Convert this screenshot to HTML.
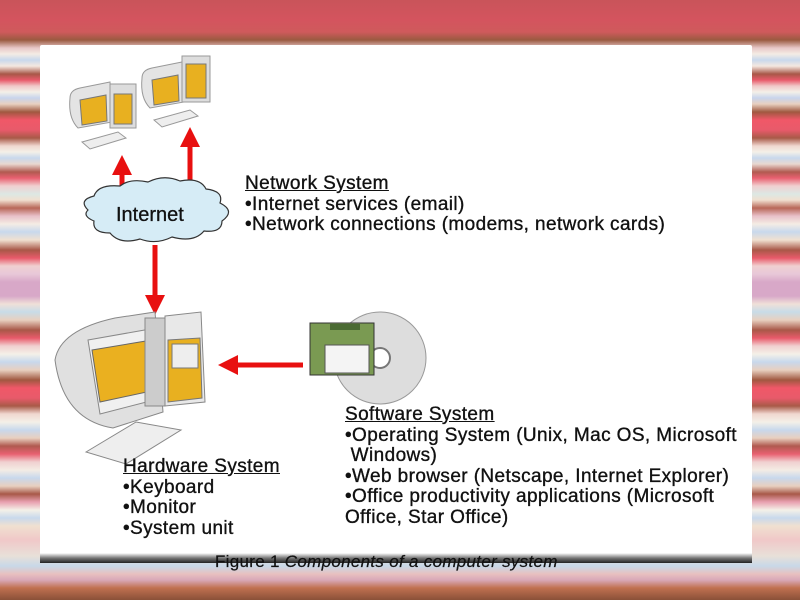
<!DOCTYPE html>
<html><head><meta charset="utf-8"><style>
html,body{margin:0;padding:0}
body{width:800px;height:600px;position:relative;overflow:hidden;font-family:"Liberation Sans",Arial,sans-serif;
background:linear-gradient(to bottom,#c9545a 0px,#d4545e 20px,#cf5a5c 32px,#9a5a40 40px,#e8c8c8 48px,#f4ece4 54px,#c8d8ec 60px,#f4e8e0 66px,#a85848 74px,#e85a6a 80px,#f0c8c8 86px,#f4f0e8 92px,#c8d4ec 98px,#e8d0c0 104px,#a05840 112px,#f05868 120px,#e85a6a 130px,#a85a48 138px,#f0d8d0 146px,#f4f0e8 152px,#c8d8ec 158px,#e8d8d0 164px,#b05a50 172px,#e86070 178px,#f0d0d0 186px,#dce8e4 194px,#f0e0d0 200px,#b86858 208px,#e8c0c8 216px,#f4ece4 224px,#c8d8ec 232px,#f0e0d0 240px,#a85848 250px,#e85a6a 258px,#f0d0d0 266px,#e8c8d8 274px,#d8a8c8 282px,#d8a8c8 296px,#f0e0d8 304px,#c8dce8 312px,#e8d0c0 320px,#a85848 330px,#e85a6a 338px,#f0d0d0 346px,#f4f0e8 354px,#c8d8ec 362px,#e8d0c0 370px,#a05840 380px,#f05868 388px,#e85a6a 398px,#a85a48 406px,#f0d8d0 414px,#f4f0e8 422px,#c8d8ec 430px,#e8d0c0 438px,#b05a50 446px,#e86070 454px,#f0d0d0 462px,#f4ece4 470px,#c8d8ec 478px,#e8d0c0 486px,#a85848 494px,#e8a0b0 502px,#f4f0e8 510px,#c8d8ec 518px,#f0e0d0 526px,#f0c8c8 540px,#e8e0d8 556px,#c8d8e8 566px,#e8c0c0 574px,#d8a8b8 580px,#c07050 588px,#8a5038 600px);}
#panel{position:absolute;left:40px;top:45px;width:712px;height:512px;background:#fff;border-radius:2px;}
.t{position:absolute;font-size:19px;line-height:20.6px;color:#111;white-space:nowrap;letter-spacing:0.4px;-webkit-text-stroke:0.35px #111}
.u{text-decoration:underline}
</style></head><body>
<div id="panel"></div>
<svg width="800" height="600" style="position:absolute;left:0;top:0">
<defs>
<marker id="ah" markerWidth="4" markerHeight="4" refX="2" refY="2" orient="auto" markerUnits="strokeWidth"><path d="M0,0 L4,2 L0,4 z" fill="#e81010"/></marker>
<linearGradient id="sh" x1="0" y1="0" x2="0" y2="1"><stop offset="0" stop-color="#fff"/><stop offset="0.5" stop-color="#777"/><stop offset="1" stop-color="#222"/></linearGradient>
</defs>
<!-- small computers -->
<g>
 <path d="M70,98 q0,-8 10,-10 l30,-6 l2,40 l-34,6 q-10,-10 -8,-30 z" fill="#e4e4e4" stroke="#999"/>
 <path d="M80,100 l26,-5 l1,26 l-25,4 z" fill="#e8b020" stroke="#777"/>
 <rect x="110" y="84" width="26" height="44" fill="#ddd" stroke="#999"/>
 <rect x="114" y="94" width="18" height="30" fill="#e8b020" stroke="#777"/>
 <path d="M82,142 l36,-10 l8,6 l-36,11 z" fill="#eee" stroke="#999"/>
</g>
<g>
 <path d="M142,78 q0,-8 10,-10 l30,-6 l2,40 l-34,6 q-10,-10 -8,-30 z" fill="#e4e4e4" stroke="#999"/>
 <path d="M152,80 l26,-5 l1,26 l-25,4 z" fill="#e8b020" stroke="#777"/>
 <rect x="182" y="56" width="28" height="46" fill="#ddd" stroke="#999"/>
 <rect x="186" y="64" width="20" height="34" fill="#e8b020" stroke="#777"/>
 <path d="M154,120 l36,-10 l8,6 l-36,11 z" fill="#eee" stroke="#999"/>
</g>
<!-- arrows -->
<line x1="122" y1="200" x2="122" y2="165" stroke="#e81010" stroke-width="5" marker-end="url(#ah)"/>
<line x1="190" y1="200" x2="190" y2="137" stroke="#e81010" stroke-width="5" marker-end="url(#ah)"/>
<line x1="155" y1="245" x2="155" y2="305" stroke="#e81010" stroke-width="5" marker-end="url(#ah)"/>
<line x1="303" y1="365" x2="228" y2="365" stroke="#e81010" stroke-width="5" marker-end="url(#ah)"/>
<!-- cloud -->
<path d="M88,210 q-10,-10 6,-14 q4,-12 26,-10 q10,-8 28,-4 q16,-8 32,-1 q20,-4 26,8 q18,2 14,14 q16,8 2,18 q0,12 -18,10 q-10,12 -32,6 q-16,8 -32,2 q-20,6 -30,-6 q-18,0 -16,-12 q-12,-5 -6,-11 z" fill="#d6ecf6" stroke="#333" stroke-width="1.2"/>
<text x="116" y="221" font-family="Liberation Sans,Arial,sans-serif" font-size="20" fill="#111" stroke="#111" stroke-width="0.3">Internet</text>
<!-- big computer -->
<path d="M55,360 q5,-30 60,-42 l40,-6 l8,100 l-50,16 q-50,-8 -58,-68 z" fill="#e0e0e0" stroke="#888"/>
<path d="M88,340 l68,-12 l6,70 l-62,16 z" fill="#f0f0f0" stroke="#888"/>
<path d="M92,350 l60,-10 l4,50 l-56,12 z" fill="#eab020" stroke="#666"/>
<rect x="145" y="318" width="20" height="88" fill="#ccc" stroke="#888"/>
<path d="M165,316 l36,-4 l4,90 l-40,4 z" fill="#e8e8e8" stroke="#888"/>
<path d="M168,340 l32,-2 l2,60 l-34,4 z" fill="#e8b020" stroke="#777"/>
<rect x="172" y="344" width="26" height="24" fill="#eee" stroke="#777"/>
<path d="M86,452 l50,-30 l45,8 l-55,34 z" fill="#eee" stroke="#888"/>
<!-- disk -->
<circle cx="380" cy="358" r="46" fill="#ddd" stroke="#999"/>
<circle cx="380" cy="358" r="10" fill="#fff" stroke="#777" stroke-width="2"/>
<rect x="310" y="323" width="64" height="52" fill="#7a9a52" stroke="#333"/>
<rect x="325" y="345" width="44" height="28" fill="#f4f4f4" stroke="#555"/>
<rect x="330" y="324" width="30" height="6" fill="#4a6a32"/>
<!-- footer shadow -->
<rect x="40" y="553" width="712" height="10" fill="url(#sh)"/>
</svg>
<div class="t" style="left:245px;top:174px"><span class="u">Network System</span><br>•Internet services (email)<br>•Network connections (modems, network cards)</div>
<div class="t" style="left:345px;top:405px"><span class="u">Software System</span><br>•Operating System (Unix, Mac OS, Microsoft<br>&nbsp;Windows)<br>•Web browser (Netscape, Internet Explorer)<br>•Office productivity applications (Microsoft<br>Office, Star Office)</div>
<div class="t" style="left:123px;top:457px"><span class="u">Hardware System</span><br>•Keyboard<br>•Monitor<br>•System unit</div>
<div class="t" style="left:215px;top:552px;font-size:17px;letter-spacing:0.3px;-webkit-text-stroke:0.2px #111">Figure 1 <i>Components of a computer system</i></div>
</body></html>
